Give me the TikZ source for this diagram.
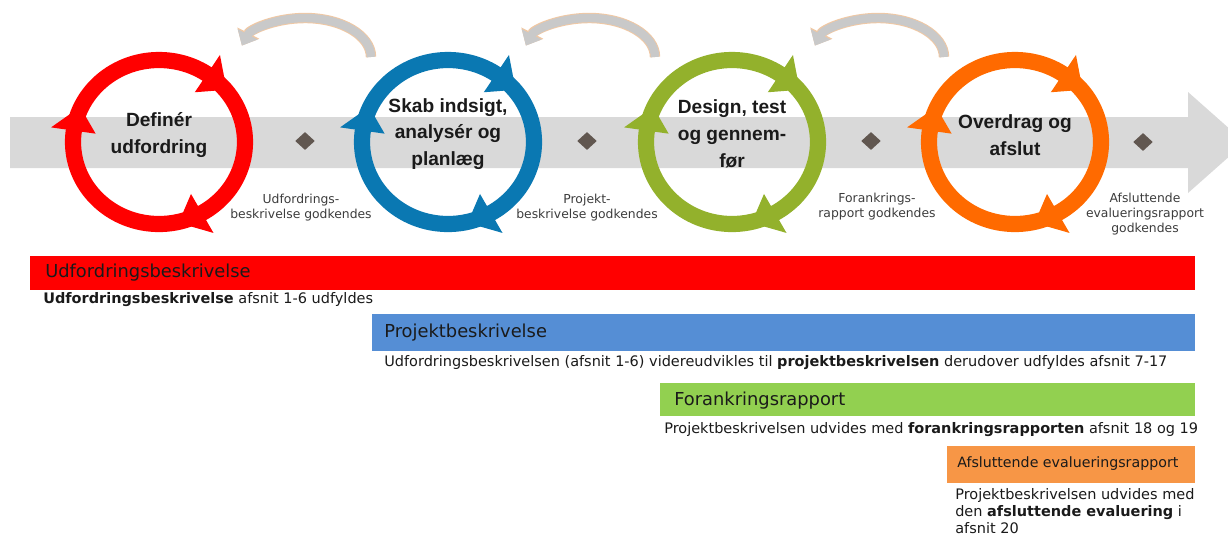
\documentclass[tikz,border=0pt]{standalone}
\usepackage{fontspec}
\setmainfont{DejaVu Sans}
\newfontfamily\ringfont{Liberation Sans}
\usetikzlibrary{arrows.meta,positioning,shapes.geometric}
\definecolor{ProcRed}{HTML}{FF0000}
\definecolor{ProcBlue}{HTML}{0A78B2}
\definecolor{ProcGreen}{HTML}{93B12C}
\definecolor{ProcOrange}{HTML}{FF6A00}
\definecolor{BarRed}{HTML}{FF0000}
\definecolor{BarBlue}{HTML}{558ED5}
\definecolor{BarGreen}{HTML}{92D050}
\definecolor{BarOrange}{HTML}{F79646}
\definecolor{BandGray}{HTML}{D9D9D9}
\definecolor{GateBrown}{HTML}{615750}
\definecolor{LoopGray}{HTML}{C9C9C9}
\definecolor{LoopEdge}{HTML}{F0C8A4}
\definecolor{InkDark}{HTML}{1A1A1A}

\tikzset{
  phase/.style={font=\ringfont\bfseries\fontsize{13.6}{19}\selectfont,
    align=center,text=InkDark,inner sep=0pt},
  ringline/.style={line width=11.5pt},
  gate/.style={diamond,fill=GateBrown,minimum width=14pt,minimum height=12.8pt,
    inner sep=0pt},
  gatelabel/.style={font=\fontsize{8.8}{10.6}\selectfont,align=center,
    text=InkDark!85,inner sep=0pt},
  bartitle/.style={anchor=west,font=\fontsize{12.7}{15}\selectfont,
    text=InkDark,inner sep=0pt},
  bartext/.style={anchor=west,font=\fontsize{10.3}{12}\selectfont,
    text=InkDark,inner sep=0pt},
  backedge/.style={line width=7.4pt,LoopEdge,-{Triangle[length=10pt,width=17pt]}},
  backfill/.style={line width=6pt,LoopGray,-{Triangle[length=9pt,width=15.4pt]}}
}

\begin{document}
\begin{tikzpicture}[x=0.025cm,y=-0.025cm]
  \clip (0,0) rectangle (1228,535);

  % grey process band
  \fill[BandGray] (10,117) -- (1188,117) -- (1188,92) -- (1245,142.5)
    -- (1188,193) -- (1188,168) -- (10,168) -- cycle;

  % rings with three arrow heads each
  \foreach \cx/\col in {159/ProcRed,448/ProcBlue,732/ProcGreen,1015/ProcOrange}{
    \begin{scope}[shift={(\cx,142)}]
      \draw[ringline,\col] (0,0) ellipse [x radius=86,y radius=82];
      \foreach \a in {-56,60,188}
        \fill[\col] (\a:64 and 60) -- (\a:109 and 105) -- (\a+17:87 and 83) -- cycle;
    \end{scope}
  }

  \node[phase] (def) at (159,135) {Definér\\udfordring};
  \node[phase] (skab) at (448,134) {Skab indsigt,\\analysér og\\planlæg};
  \node[phase] (design) at (732,134) {Design, test\\og gennem-\\før};
  \node[phase] (overdrag) at (1015,135) {Overdrag og\\afslut};

  % gates
  \node[gate] (g1) at (305,141) {};
  \node[gate] (g2) at (587,141) {};
  \node[gate] (g3) at (871,141) {};
  \node[gate] (g4) at (1143,142) {};

  \node[gatelabel] (l1) at (301,208) {Udfordrings-\\beskrivelse godkendes};
  \node[gatelabel] (l2) at (587,208) {Projekt-\\beskrivelse godkendes};
  \node[gatelabel] (l3) at (877,207) {Forankrings-\\rapport godkendes};
  \node[gatelabel] (l4) at (1145,214) {Afsluttende\\evalueringsrapport\\godkendes};

  % loops back to the previous phase
  \foreach \lx [count=\i] in {305,589,878}{
    \coordinate (b\i) at (\lx+66,57);
    \draw[backedge] (b\i) arc[start angle=0,end angle=-163,x radius=66,y radius=39];
    \draw[backfill] (b\i) arc[start angle=0,end angle=-163,x radius=66,y radius=39];
  }

  % document bars
  \fill[BarRed] (30,256) rectangle (1195,290);
  \node[bartitle] (t1) at (45,273) {Udfordringsbeskrivelse};
  \node[bartext] (d1) at (43,300) {\textbf{Udfordringsbeskrivelse} afsnit 1-6 udfyldes};

  \fill[BarBlue] (372,314) rectangle (1195,351);
  \node[bartitle] (t2) at (384,333) {Projektbeskrivelse};
  \node[bartext] (d2) at (384,363) {Udfordringsbeskrivelsen (afsnit 1-6) videreudvikles til
    \textbf{projektbeskrivelsen} derudover udfyldes afsnit 7-17};

  \fill[BarGreen] (660,383) rectangle (1195,416);
  \node[bartitle] (t3) at (674,401) {Forankringsrapport};
  \node[bartext] (d3) at (664,430) {Projektbeskrivelsen udvides med
    \textbf{forankringsrapporten} afsnit 18 og 19};

  \fill[BarOrange] (947,446) rectangle (1195,483);
  \node[bartitle,font=\fontsize{10.1}{12}\selectfont] (t4) at (957,464)
    {Afsluttende evalueringsrapport};
  \node[bartext,anchor=north west,align=left] (d4) at (955,488)
    {Projektbeskrivelsen udvides med\\den \textbf{afsluttende evaluering} i\\afsnit 20};
\end{tikzpicture}
\end{document}
